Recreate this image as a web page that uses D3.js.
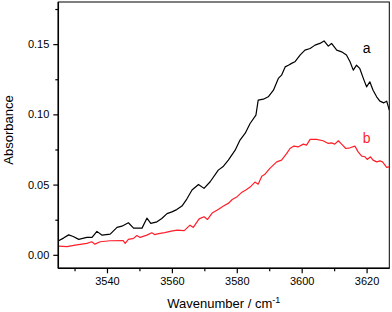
<!DOCTYPE html>
<html>
<head>
<meta charset="utf-8">
<script src="https://cdn.jsdelivr.net/npm/d3@7"></script>
<style>
  html, body { margin: 0; padding: 0; background: #fff; }
  svg { display: block; font-family: "Liberation Sans", Arial, sans-serif; }
</style>
</head>
<body>
<svg id="svg"></svg>
<script>
const WIDTH = 392, HEIGHT = 312;

// curve a (black)
const waveA = [3525.1,3526.6,3528.2,3529.6,3531.3,3533.8,3535.4,3536.9,3538.5,3541.0,3543.1,3544.6,3546.6,3548.2,3550.8,3552.3,3553.5,3555.4,3556.9,3558.5,3560.0,3561.5,3563.1,3564.6,3566.2,3568.2,3569.9,3571.8,3574.3,3575.9,3577.4,3579.5,3581.0,3582.6,3584.1,3585.9,3586.6,3588.2,3589.7,3591.3,3592.8,3593.8,3594.9,3595.9,3596.9,3597.9,3599.5,3601.0,3602.6,3604.1,3605.6,3606.9,3608.2,3609.2,3610.8,3612.3,3613.8,3614.9,3615.9,3616.9,3617.9,3619.2,3620.0,3621.0,3622.0,3623.1,3624.1,3625.3,3626.2,3627.0];
const absA = [0.0100,0.0119,0.0142,0.0130,0.0110,0.0124,0.0124,0.0167,0.0140,0.0147,0.0195,0.0204,0.0228,0.0190,0.0190,0.0261,0.0224,0.0235,0.0259,0.0293,0.0306,0.0322,0.0347,0.0397,0.0461,0.0501,0.0473,0.0520,0.0603,0.0631,0.0674,0.0745,0.0817,0.0866,0.0935,0.0995,0.1101,0.1108,0.1125,0.1172,0.1256,0.1279,0.1338,0.1350,0.1363,0.1374,0.1422,0.1457,0.1469,0.1493,0.1505,0.1523,0.1486,0.1505,0.1457,0.1445,0.1422,0.1374,0.1315,0.1350,0.1327,0.1244,0.1196,0.1232,0.1172,0.1125,0.1094,0.1082,0.1094,0.1030];

// curve b (red)
const waveB = [3525.1,3527.7,3530.2,3533.8,3535.3,3536.3,3537.9,3541.0,3545.0,3545.6,3546.6,3548.2,3549.2,3550.2,3552.3,3553.8,3554.7,3555.9,3557.8,3559.8,3561.6,3563.8,3565.6,3566.6,3568.4,3569.9,3571.0,3572.4,3574.4,3575.9,3577.5,3578.6,3580.1,3581.6,3582.9,3584.1,3585.6,3586.6,3587.7,3588.7,3590.2,3592.3,3593.8,3595.4,3596.4,3597.6,3599.0,3600.5,3601.5,3602.6,3604.6,3606.6,3608.2,3609.2,3610.2,3611.3,3612.3,3613.6,3614.9,3616.4,3617.4,3618.5,3619.5,3620.2,3621.2,3622.0,3623.1,3624.1,3624.9,3626.2,3627.0];
const absB = [0.0062,0.0058,0.0069,0.0081,0.0093,0.0076,0.0093,0.0100,0.0101,0.0081,0.0110,0.0117,0.0137,0.0124,0.0140,0.0157,0.0144,0.0151,0.0158,0.0169,0.0176,0.0172,0.0211,0.0195,0.0256,0.0271,0.0252,0.0297,0.0325,0.0347,0.0368,0.0394,0.0414,0.0446,0.0464,0.0482,0.0518,0.0503,0.0560,0.0574,0.0615,0.0662,0.0674,0.0722,0.0757,0.0774,0.0769,0.0788,0.0781,0.0822,0.0822,0.0812,0.0793,0.0797,0.0788,0.0812,0.0788,0.0757,0.0762,0.0774,0.0733,0.0703,0.0698,0.0679,0.0698,0.0674,0.0662,0.0669,0.0662,0.0622,0.0626];

const xMajor = [3540, 3560, 3580, 3600, 3620];
const xMinor = [3530, 3550, 3570, 3590, 3610];
const yMajor = [0.00, 0.05, 0.10, 0.15];
const yMinor = [0.025, 0.075, 0.125, 0.175];

const margin = {top: 2, right: 2.7, bottom: 43.7, left: 58.3};
const w = WIDTH - margin.left - margin.right, h = HEIGHT - margin.top - margin.bottom;

const svg = d3.select('#svg').attr('width', WIDTH).attr('height', HEIGHT);
const g = svg.append('g').attr('transform', 'translate(' + margin.left + ',' + margin.top + ')');

const x = d3.scaleLinear().domain([3525, 3627]).range([0, w]);
const y = d3.scaleLinear().domain([-0.0096, 0.18]).range([h, 0]);

g.append('clipPath').attr('id', 'clip').append('rect').attr('width', w).attr('height', h);

// frame (top + right)
g.append('rect').attr('width', w).attr('height', h)
    .attr('fill', 'none').attr('stroke', '#000').attr('stroke-width', 1);

const line = d3.line().x(d => x(d[0])).y(d => y(d[1]));
const series = [
    {pts: d3.zip(waveA, absA), color: '#000'},
    {pts: d3.zip(waveB, absB), color: '#ff1f2a'}
];
series.forEach(s => {
    g.append('path').attr('d', line(s.pts)).attr('clip-path', 'url(#clip)')
        .attr('fill', 'none').attr('stroke', s.color).attr('stroke-width', 1.2)
        .attr('stroke-linejoin', 'round');
});

// axes
const xAxis = g.append('g').attr('transform', 'translate(0,' + h + ')')
    .call(d3.axisBottom(x).tickValues(xMajor).tickFormat(d3.format('d')).tickSize(5).tickPadding(4));
g.append('g').attr('transform', 'translate(0,' + h + ')')
    .call(d3.axisBottom(x).tickValues(xMinor).tickFormat('').tickSize(3).tickSizeOuter(0));
const yAxis = g.append('g')
    .call(d3.axisLeft(y).tickValues(yMajor).tickFormat(d3.format('.2f')).tickSize(5).tickPadding(4));
g.append('g')
    .call(d3.axisLeft(y).tickValues(yMinor).tickFormat('').tickSize(3).tickSizeOuter(0));

g.selectAll('.domain').attr('stroke-width', 1.5).attr('d', null);
g.selectAll('.domain').remove();
g.append('line').attr('x1', 0).attr('x2', w).attr('y1', h).attr('y2', h).attr('stroke', '#000').attr('stroke-width', 1.5);
g.append('line').attr('x1', 0).attr('x2', 0).attr('y1', 0).attr('y2', h).attr('stroke', '#000').attr('stroke-width', 1.5);
g.selectAll('.tick line').attr('stroke-width', 1.2);
g.selectAll('.tick text').attr('font-size', 11).attr('font-family', '"Liberation Sans", Arial, sans-serif').attr('fill', '#000');

// axis titles
svg.append('text').attr('transform', 'translate(13,' + 130 + ') rotate(-90)')
    .attr('text-anchor', 'middle').attr('font-size', 13).text('Absorbance');
const xt = svg.append('text').attr('x', margin.left + w / 2).attr('y', 308)
    .attr('text-anchor', 'middle').attr('font-size', 13);
xt.append('tspan').text('Wavenumber / cm');
xt.append('tspan').attr('dy', -5).attr('font-size', 9).text('-1');

// curve labels
g.append('text').attr('x', x(3620)).attr('y', y(0.1435)).attr('text-anchor', 'middle')
    .attr('font-size', 14).attr('fill', '#000').text('a');
g.append('text').attr('x', x(3620)).attr('y', y(0.0795)).attr('text-anchor', 'middle')
    .attr('font-size', 14).attr('fill', '#ff1f2a').text('b');
</script>
</body>
</html>
